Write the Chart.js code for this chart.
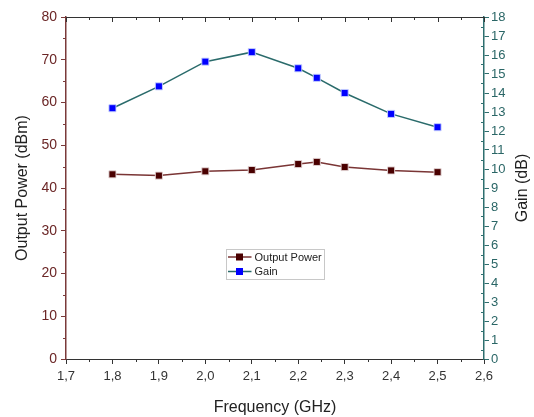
<!DOCTYPE html>
<html>
<head>
<meta charset="utf-8">
<script src="https://cdn.jsdelivr.net/npm/chart.js@4/dist/chart.umd.min.js"></script>
<style>
  html, body { margin: 0; padding: 0; background: #fff; }
  #wrap { width: 534px; height: 417px; }
</style>
</head>
<body>
<div id="wrap"><canvas id="chart" width="534" height="417"></canvas></div>
<script>
// Data
const freqs = [1.8, 1.9, 2.0, 2.1, 2.2, 2.24, 2.3, 2.4, 2.5];
const outputPower = [43.2, 42.9, 43.9, 44.2, 45.6, 46.1, 44.9, 44.1, 43.7];
const gain = [13.2, 14.35, 15.65, 16.15, 15.3, 14.8, 14.0, 12.9, 12.2];

const xTicksMin = 1.7, xTicksMax = 2.6;
const leftMax = 80, rightMax = 18;
const rightTitle = 'Gain (dB)';

const FONT = '"Liberation Sans", Arial, sans-serif';
const POWER_LINE = '#7a3535';
const POWER_MARK = '#4a0000';
const GAIN_LINE = '#2a6b6b';
const GAIN_MARK = '#0000ff';
const LEFT_AXIS = '#7a3a3a';
const LEFT_TEXT = '#6b2626';
const RIGHT_AXIS = '#2e6f6f';
const RIGHT_TEXT = '#2a6666';

function toPoints(ys) {
    return freqs.map((f, i) => ({ x: f, y: ys[i] }));
}

// draws minor ticks, the top frame, the right title and the in-plot legend
const extrasPlugin = {
    id: 'extras',
    afterDraw(chart) {
        const ctx = chart.ctx;
        const a = chart.chartArea;
        const x = chart.scales.x, yl = chart.scales.y, yr = chart.scales.y1;
        ctx.save();
        ctx.lineWidth = 1;

        // top frame
        ctx.strokeStyle = '#333';
        ctx.beginPath();
        ctx.moveTo(a.left, a.top + 0.5);
        ctx.lineTo(a.right, a.top + 0.5);
        ctx.stroke();

        // x minor / top ticks
        for (let i = 0; i <= 18; i++) {
            const v = xTicksMin + i * 0.05;
            const px = Math.round(x.getPixelForValue(v)) + 0.5;
            const major = i % 2 === 0;
            ctx.beginPath();
            if (!major) {
                ctx.moveTo(px, a.bottom);
                ctx.lineTo(px, a.bottom + 3);
            }
            ctx.moveTo(px, a.top);
            ctx.lineTo(px, a.top + (major ? 5 : 3));
            ctx.stroke();
        }

        // left minor ticks
        ctx.strokeStyle = LEFT_AXIS;
        for (let v = 5; v < leftMax; v += 10) {
            const py = Math.round(yl.getPixelForValue(v)) + 0.5;
            ctx.beginPath();
            ctx.moveTo(a.left, py);
            ctx.lineTo(a.left - 3, py);
            ctx.stroke();
        }

        // right minor ticks
        ctx.strokeStyle = RIGHT_AXIS;
        for (let v = 0.5; v < rightMax; v += 1) {
            const py = Math.round(yr.getPixelForValue(v)) + 0.5;
            ctx.beginPath();
            ctx.moveTo(a.right, py);
            ctx.lineTo(a.right - 3, py);
            ctx.stroke();
        }

        // right axis title, reading bottom to top like the left one
        ctx.save();
        ctx.translate(523, (a.top + a.bottom) / 2);
        ctx.rotate(-Math.PI / 2);
        ctx.font = '16px ' + FONT;
        ctx.fillStyle = '#222';
        ctx.textAlign = 'center';
        ctx.textBaseline = 'middle';
        ctx.fillText(rightTitle, 0, 0);
        ctx.restore();

        // legend box
        const bx = 226.5, by = 249.5, bw = 98, bh = 30;
        ctx.strokeStyle = '#c8c8c8';
        ctx.strokeRect(bx, by, bw, bh);
        const items = [
            { label: 'Output Power', line: POWER_LINE, mark: POWER_MARK, y: by + 7.5 },
            { label: 'Gain', line: GAIN_LINE, mark: GAIN_MARK, y: by + 22 }
        ];
        ctx.font = '11px ' + FONT;
        ctx.textBaseline = 'middle';
        items.forEach(it => {
            ctx.strokeStyle = it.line;
            ctx.lineWidth = 1.5;
            ctx.beginPath();
            ctx.moveTo(bx + 1.5, it.y);
            ctx.lineTo(bx + 25, it.y);
            ctx.stroke();
            ctx.fillStyle = it.mark;
            ctx.fillRect(bx + 9.5, it.y - 3.5, 7, 7);
            ctx.fillStyle = '#222';
            ctx.fillText(it.label, bx + 28, it.y + 0.5);
        });
        ctx.restore();
    }
};

new Chart(document.getElementById('chart'), {
    type: 'line',
    data: {
        datasets: [
            {
                label: 'Output Power',
                data: toPoints(outputPower),
                yAxisID: 'y',
                borderColor: POWER_LINE,
                borderWidth: 1.5,
                pointStyle: 'rect',
                pointRadius: 5,
                pointBackgroundColor: POWER_MARK,
                pointBorderColor: 'rgba(230,215,215,0.9)',
                pointBorderWidth: 1,
                tension: 0
            },
            {
                label: 'Gain',
                data: toPoints(gain),
                yAxisID: 'y1',
                borderColor: GAIN_LINE,
                borderWidth: 1.5,
                pointStyle: 'rect',
                pointRadius: 5,
                pointBackgroundColor: GAIN_MARK,
                pointBorderColor: 'rgba(200,210,255,0.9)',
                pointBorderWidth: 1,
                tension: 0
            }
        ]
    },
    options: {
        responsive: false,
        animation: false,
        layout: { padding: { top: 17, left: 0, right: 0, bottom: 0 } },
        plugins: {
            legend: { display: false },
            tooltip: { enabled: false }
        },
        scales: {
            x: {
                type: 'linear',
                min: xTicksMin,
                max: xTicksMax,
                border: { color: '#333', width: 1 },
                grid: { drawOnChartArea: false, drawTicks: true, tickLength: 5, color: '#333' },
                ticks: {
                    stepSize: 0.1,
                    color: '#333',
                    padding: 5,
                    font: { family: FONT, size: 13 },
                    callback: v => v.toFixed(1).replace('.', ',')
                },
                title: {
                    display: true,
                    text: 'Frequency (GHz)',
                    color: '#222',
                    padding: { top: 4, bottom: 0 },
                    font: { family: FONT, size: 16 }
                },
                afterFit: s => { s.height = 58; }
            },
            y: {
                position: 'left',
                min: 0,
                max: leftMax,
                border: { color: LEFT_AXIS, width: 1.5 },
                grid: { drawOnChartArea: false, drawTicks: true, tickLength: 5, color: LEFT_AXIS },
                ticks: {
                    stepSize: 10,
                    color: LEFT_TEXT,
                    padding: 4,
                    font: { family: FONT, size: 14 }
                },
                title: {
                    display: true,
                    text: 'Output Power (dBm)',
                    color: '#222',
                    padding: { top: 13, bottom: 0 },
                    font: { family: FONT, size: 16 }
                },
                afterFit: s => { s.width = 66; }
            },
            y1: {
                position: 'right',
                min: 0,
                max: rightMax,
                border: { color: RIGHT_AXIS, width: 1.5 },
                grid: { drawOnChartArea: false, drawTicks: true, tickLength: 5, color: RIGHT_AXIS },
                ticks: {
                    stepSize: 1,
                    color: RIGHT_TEXT,
                    padding: 2,
                    font: { family: FONT, size: 13 }
                },
                afterFit: s => { s.width = 50; }
            }
        }
    },
    plugins: [extrasPlugin]
});
</script>
</body>
</html>
